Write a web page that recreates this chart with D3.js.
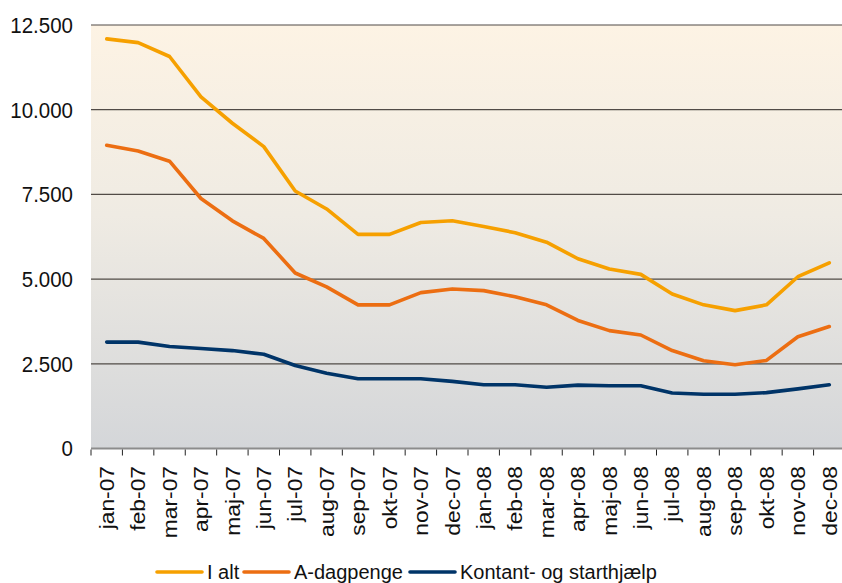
<!DOCTYPE html>
<html>
<head>
<meta charset="utf-8">
<script src="https://cdn.jsdelivr.net/npm/d3@7"></script>
<style>
  body { margin: 0; background: #fff; }
  svg { display: block; font-family: "Liberation Sans", Arial, sans-serif; }
</style>
</head>
<body>
<script>
// Months on the x axis
var months = ["jan-07", "feb-07", "mar-07", "apr-07", "maj-07", "jun-07", "jul-07", "aug-07",
              "sep-07", "okt-07", "nov-07", "dec-07", "jan-08", "feb-08", "mar-08", "apr-08",
              "maj-08", "jun-08", "jul-08", "aug-08", "sep-08", "okt-08", "nov-08", "dec-08"];

// Series values
var iAlt = [12090, 11980, 11570, 10380, 9600, 8910, 7600, 7070, 6320, 6320, 6670, 6720,
            6550, 6370, 6090, 5600, 5300, 5140, 4560, 4240, 4070, 4240, 5070, 5480];
var aDagpenge = [8950, 8780, 8480, 7380, 6720, 6200, 5180, 4770, 4240, 4240, 4600, 4710,
                 4660, 4480, 4240, 3780, 3480, 3350, 2890, 2590, 2470, 2600, 3300, 3600];
var kontant = [3140, 3140, 3010, 2950, 2890, 2780, 2450, 2220, 2060, 2060, 2060, 1980,
               1880, 1880, 1810, 1870, 1850, 1850, 1640, 1600, 1600, 1650, 1760, 1880];

var seriesNames = ["I alt", "A-dagpenge", "Kontant- og starthjælp"];
var seriesColors = ["#f6a000", "#ec6e12", "#003468"];
var yTicks = [0, 2500, 5000, 7500, 10000, 12500];

var width = 842, height = 583;
var margin = { left: 91, right: 845, top: 25, bottom: 448.5 };

var svg = d3.select("body").append("svg")
    .attr("width", width)
    .attr("height", height);

// Background gradient of the plot area
var grad = svg.append("defs").append("linearGradient")
    .attr("id", "bg")
    .attr("x1", 0).attr("y1", 0).attr("x2", 0).attr("y2", 1);
grad.append("stop").attr("offset", "0%").attr("stop-color", "#fdf3e4");
grad.append("stop").attr("offset", "45%").attr("stop-color", "#efebe3");
grad.append("stop").attr("offset", "100%").attr("stop-color", "#d4d6d9");

var x = d3.scaleBand()
    .domain(months)
    .range([margin.left, margin.right]);

var y = d3.scaleLinear()
    .domain([0, 12500])
    .range([margin.bottom, margin.top]);

svg.append("rect")
    .attr("x", margin.left)
    .attr("y", margin.top)
    .attr("width", margin.right - margin.left)
    .attr("height", margin.bottom - margin.top)
    .attr("fill", "url(#bg)");

// Gridlines
svg.append("g")
    .selectAll("line")
    .data(yTicks.filter(d => d > 0))
    .enter()
    .append("line")
    .attr("x1", margin.left)
    .attr("x2", margin.right)
    .attr("y1", d => y(d))
    .attr("y2", d => y(d))
    .attr("stroke", "#514b46")
    .attr("stroke-width", 1.2);

// Y axis labels
var fmt = d => d3.format(",")(d).replace(/,/g, ".");
svg.append("g")
    .selectAll("text")
    .data(yTicks)
    .enter()
    .append("text")
    .attr("transform", d => "translate(73," + y(d) + ") scale(1,1.06)")
    .attr("dy", "0.36em")
    .attr("text-anchor", "end")
    .attr("font-size", 20.5)
    .attr("fill", "#111")
    .text(fmt);

// X axis line and ticks
svg.append("line")
    .attr("x1", margin.left)
    .attr("x2", margin.right)
    .attr("y1", margin.bottom)
    .attr("y2", margin.bottom)
    .attr("stroke", "#8c8c8c")
    .attr("stroke-width", 2);

var tickPos = months.map(m => x(m));
tickPos.push(margin.right);
svg.append("g")
    .selectAll("line")
    .data(tickPos)
    .enter()
    .append("line")
    .attr("x1", d => d)
    .attr("x2", d => d)
    .attr("y1", margin.bottom + 1)
    .attr("y2", margin.bottom + 7)
    .attr("stroke", "#222")
    .attr("stroke-width", 1);

// Rotated month labels
svg.append("g")
    .selectAll("text")
    .data(months)
    .enter()
    .append("text")
    .attr("transform", d => "translate(" + (x(d) + x.bandwidth() / 2) + "," + 466 + ") rotate(-90) scale(1.14,1)")
    .attr("dy", "0.36em")
    .attr("text-anchor", "end")
    .attr("font-size", 20)
    .attr("fill", "#111")
    .text(d => d);

// Lines
var line = d3.line()
    .x((d, i) => x(months[i]) + x.bandwidth() / 2)
    .y(d => y(d));

[iAlt, aDagpenge, kontant].forEach(function (vals, k) {
    svg.append("path")
        .attr("d", line(vals))
        .attr("fill", "none")
        .attr("stroke", seriesColors[k])
        .attr("stroke-width", 3.6)
        .attr("stroke-linejoin", "round")
        .attr("stroke-linecap", "round");
});

// Legend
var legendX = [157, 244, 410];
var legend = svg.append("g")
    .selectAll("g")
    .data(seriesNames)
    .enter()
    .append("g")
    .attr("transform", (d, i) => "translate(" + legendX[i] + ",572)");

legend.append("line")
    .attr("x1", 0)
    .attr("x2", 45)
    .attr("stroke", (d, i) => seriesColors[i])
    .attr("stroke-width", 3.6)
    .attr("stroke-linecap", "round");

legend.append("text")
    .attr("x", 50)
    .attr("y", 7)
    .attr("font-size", 20)
    .attr("fill", "#111")
    .text(d => d);
</script>
</body>
</html>
